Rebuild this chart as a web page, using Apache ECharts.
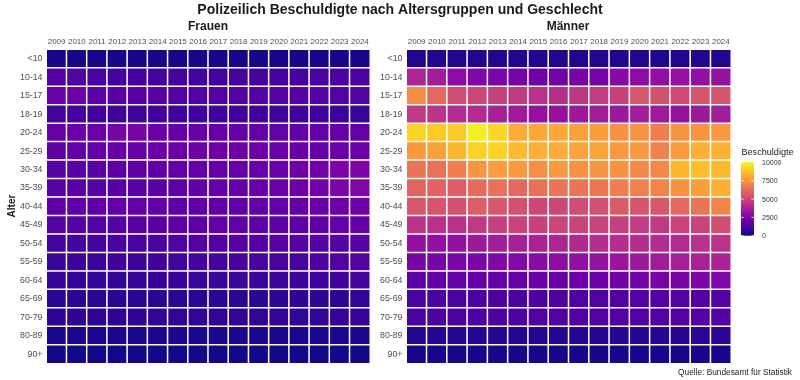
<!DOCTYPE html>
<html><head><meta charset="utf-8">
<script src="https://cdn.jsdelivr.net/npm/echarts@6/dist/echarts.min.js"></script>
<style>html,body{margin:0;padding:0;background:#fff}#c{width:800px;height:380px}</style>
</head><body><div id="c"></div>
<script>
var years = ['2009','2010','2011','2012','2013','2014','2015','2016','2017','2018','2019','2020','2021','2022','2023','2024'];
var ages = ['<10','10-14','15-17','18-19','20-24','25-29','30-34','35-39','40-44','45-49','50-54','55-59','60-64','65-69','70-79','80-89','90+'];
var legendTicks = [0, 2500, 5000, 7500, 10000];

var frauen = [
  [200,200,200,190,190,180,180,190,190,190,190,180,190,200,200,200],
  [1400,1350,1200,1150,1150,1100,1100,1050,1050,1100,1100,1100,1150,1200,1300,1300],
  [2000,2100,1700,1650,1600,1600,1450,1400,1400,1450,1500,1500,1550,1500,1400,1350],
  [1050,1050,1000,1000,950,1000,950,950,950,1000,1000,950,950,950,900,850],
  [1850,2000,2050,2350,2400,2000,1950,1950,1950,1950,1900,1850,1800,1850,1850,1800],
  [1700,1800,1850,1950,1950,2050,2050,2100,2150,2100,2050,2000,1950,1950,2000,2000],
  [1500,1550,1600,1650,1700,1750,1800,1800,1850,1900,2000,2050,2150,2200,2450,2500],
  [1550,1550,1500,1550,1600,1650,1700,1750,1800,1850,1950,2000,2100,2200,2450,2600],
  [1750,1750,1750,1800,1800,1800,1750,1750,1750,1800,1800,1800,1850,1950,2100,2150],
  [1500,1500,1500,1550,1600,1650,1700,1700,1800,1800,1750,1750,1700,1750,1800,1800],
  [1050,1100,1150,1200,1250,1300,1350,1400,1450,1500,1500,1550,1550,1550,1500,1550],
  [850,900,900,950,1000,1000,1050,1100,1150,1150,1200,1200,1250,1300,1400,1450],
  [750,750,750,750,800,800,800,850,850,850,900,900,950,950,1000,1050],
  [550,550,550,550,550,550,550,550,600,600,600,600,650,650,650,700],
  [650,650,650,650,650,700,700,700,700,700,700,700,700,700,750,750],
  [250,250,250,250,250,250,250,250,250,250,250,250,260,270,280,290],
  [100,100,100,100,100,100,100,100,100,100,100,100,100,110,110,110]
];
var maenner = [
  [400,400,400,400,400,380,380,390,400,400,400,380,350,380,400,400],
  [3900,3600,2950,2600,2450,2350,2200,2200,2400,2350,2800,2950,3100,3200,3150,3200],
  [7300,6200,5300,5000,4800,4600,4300,4200,4500,4650,4850,5600,5400,5200,5500,5500],
  [4600,4400,4100,4100,3700,3500,3200,3200,3450,3550,3450,3600,3500,3200,3450,3600],
  [9200,9000,9000,9900,9300,8200,8100,8100,7900,7850,7500,7550,6900,7550,7550,7700],
  [7700,7900,8500,9200,9200,8600,8300,8200,8000,7950,7700,7700,7000,7750,8300,8350],
  [6600,6500,6900,7600,7850,7700,7400,7650,7450,7600,7500,7250,7200,8500,8700,8550],
  [6050,6000,5800,6300,6500,6200,6450,6550,6600,6700,6850,6950,7050,7500,7850,8300],
  [5600,5550,5400,5850,5650,5400,5100,5100,5250,5350,5750,5550,5650,6200,6550,7100],
  [4400,4300,4300,4600,4800,4900,4850,5000,4950,4950,4800,4650,4600,4900,4950,5300],
  [3150,3100,3150,3450,3600,3700,3800,3900,4000,4100,4150,4150,4100,4050,4300,4350],
  [2400,2400,2450,2550,2650,2700,2850,2950,3100,3200,3300,3450,3550,3650,3750,3800],
  [1700,1800,1800,1850,1850,1900,1950,2000,2050,2100,2200,2250,2350,2400,2500,2600],
  [1200,1200,1200,1200,1250,1250,1300,1300,1350,1350,1400,1400,1400,1450,1450,1500],
  [1250,1250,1250,1300,1300,1300,1350,1400,1400,1400,1450,1450,1450,1500,1500,1550],
  [450,450,450,450,450,450,450,450,500,500,500,500,500,500,550,550],
  [180,180,180,180,180,180,180,180,180,180,180,180,190,190,190,200]
];

var plasma = ['#0d0887','#41049d','#6a00a8','#8f0da4','#b12a90','#cc4778','#e16462','#f2844b','#fca636','#fcce25','#f0f921'];
var vmax = 10100;

function toData(m){
  var out = [];
  for (var r = 0; r < ages.length; r++)
    for (var c = 0; c < years.length; c++)
      out.push([c, r, m[r][c]]);
  return out;
}

var chart = echarts.init(document.getElementById('c'), null, {renderer:'canvas'});
var font = '"Liberation Sans", Arial, sans-serif';
var gridTop = 49.5, gridH = 314;
var grids = [
  {left: 46.5, top: gridTop, width: 323.5, height: gridH},
  {left: 406.5, top: gridTop, width: 324.5, height: gridH}
];
function xAx(i){ return {type:'category', gridIndex:i, data:years, position:'top',
  axisLine:{show:false}, axisTick:{show:false}, splitLine:{show:false},
  axisLabel:{color:'#4d4d4d', fontSize:8, fontFamily:font, margin:4, interval:0}}; }
function yAx(i){ return {type:'category', gridIndex:i, data:ages, inverse:true,
  axisLine:{show:false}, axisTick:{show:false}, splitLine:{show:false},
  axisLabel:{color:'#4d4d4d', fontSize:8.8, fontFamily:font, margin:4, interval:0}}; }

var barTop = 161.7, barBot = 235.7, barX = 741, barW = 13;
var stops = plasma.map(function(c, i){ return {offset: 1 - i/(plasma.length-1), color: c}; });
var graphics = [
  {type:'text', x:400, y:10, style:{text:'Polizeilich Beschuldigte nach Altersgruppen und Geschlecht', font:'bold 14px '+font, fill:'#1a1a1a', textAlign:'center', textVerticalAlign:'middle'}},
  {type:'text', x:208, y:27, style:{text:'Frauen', font:'bold 12px '+font, fill:'#1a1a1a', textAlign:'center', textVerticalAlign:'middle'}},
  {type:'text', x:568, y:27, style:{text:'Männer', font:'bold 12px '+font, fill:'#1a1a1a', textAlign:'center', textVerticalAlign:'middle'}},
  {type:'text', x:12, y:206, rotation:Math.PI/2, style:{text:'Alter', font:'bold 10px '+font, fill:'#1a1a1a', textAlign:'center', textVerticalAlign:'middle'}},
  {type:'text', x:792, y:373, style:{text:'Quelle: Bundesamt für Statistik', font:'8.3px '+font, fill:'#1a1a1a', textAlign:'right', textVerticalAlign:'middle'}},
  {type:'text', x:741.5, y:152, style:{text:'Beschuldigte', font:'9.1px '+font, fill:'#1a1a1a', textVerticalAlign:'middle'}},
  {type:'rect', shape:{x:barX, y:barTop, width:barW, height:barBot-barTop},
   style:{fill:new echarts.graphic.LinearGradient(0,0,0,1,stops)}}
];
legendTicks.forEach(function(v){
  var y = barBot - v / vmax * (barBot - barTop);
  graphics.push({type:'text', x:762, y:y + 0.8, style:{text:String(v), font:'7px '+font, fill:'#333', textVerticalAlign:'middle'}});
  graphics.push({type:'line', shape:{x1:barX, y1:y, x2:barX+2.6, y2:y}, style:{stroke:'#fff', lineWidth:0.8}});
  graphics.push({type:'line', shape:{x1:barX+barW-2.6, y1:y, x2:barX+barW, y2:y}, style:{stroke:'#fff', lineWidth:0.8}});
});

chart.setOption({
  animation:false,
  backgroundColor:'#fff',
  grid: grids,
  xAxis: [xAx(0), xAx(1)],
  yAxis: [yAx(0), yAx(1)],
  visualMap: {type:'continuous', show:false, min:0, max:vmax, seriesIndex:[0,1], inRange:{color:plasma}},
  series: [
    {type:'heatmap', xAxisIndex:0, yAxisIndex:0, data:toData(frauen), itemStyle:{borderColor:'#fff', borderWidth:1.5}},
    {type:'heatmap', xAxisIndex:1, yAxisIndex:1, data:toData(maenner), itemStyle:{borderColor:'#fff', borderWidth:1.5}}
  ],
  graphic: graphics
});
</script></body></html>
